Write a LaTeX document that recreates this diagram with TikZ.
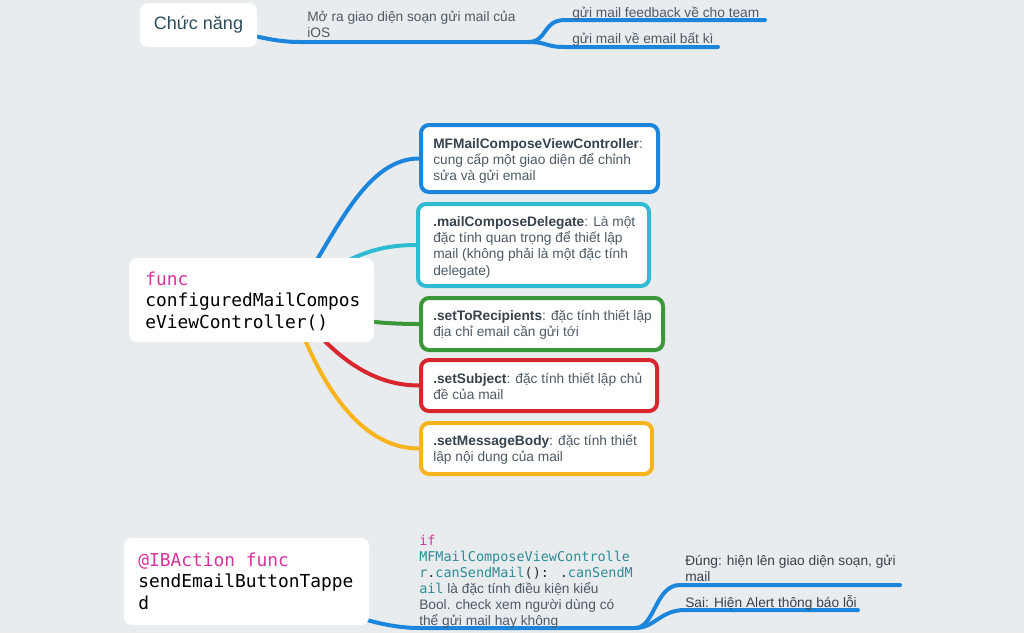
\documentclass[tikz,border=0pt]{standalone}
\usepackage{fontspec}
\setmainfont{Liberation Sans}
\newfontfamily\codefont{DejaVu Sans Mono}
\usetikzlibrary{fit}
\pgfdeclarelayer{back}
\pgfdeclarelayer{lines}
\pgfsetlayers{back,lines,main}
\definecolor{bgc}{HTML}{E9ECEF}
\definecolor{cblue}{HTML}{1B86DC}
\definecolor{ccyan}{HTML}{2FBCD3}
\definecolor{cgreen}{HTML}{3A983A}
\definecolor{cred}{HTML}{D8262E}
\definecolor{cyellow}{HTML}{F8B41C}
\definecolor{kwpink}{HTML}{D6349B}
\definecolor{codeteal}{HTML}{2E8C96}
\definecolor{codedark}{HTML}{2A2F33}
\definecolor{txtc}{HTML}{4E5A65}
\definecolor{boldc}{HTML}{37424C}
\definecolor{cnc}{HTML}{2E4D5C}
\newcommand\bodyfont{\fontsize{10.3}{12.2}\selectfont}
\newcommand\bigcode{\codefont\fontsize{13.4}{16.1}\selectfont}
\newcommand\smallcode{\codefont\fontsize{10.1}{12}\selectfont}
\newcommand\mystrut{\rule{0pt}{11pt}}
\newcommand\mystrutB{\rule{0pt}{12pt}}
\newcommand\bt[1]{\textcolor{boldc}{\textbf{#1}}}
\tikzset{
  branch/.style={line width=3pt, line cap=round},
  box/.style={draw, line width=3pt, rounded corners=6pt, fill=white, inner sep=0pt},
  whitebox/.style={fill=white, rounded corners=6pt, inner sep=0pt},
  txt/.style={anchor=north west, inner sep=0pt, align=left, font=\bodyfont, text=txtc},
  code/.style={anchor=north west, inner sep=0pt, align=left, font=\bigcode, text=black},
}
\begin{document}
\begin{tikzpicture}[x=0.75pt,y=-0.75pt]
\useasboundingbox (0,0) rectangle (1024,633);
\begin{pgfonlayer}{back}
\fill[bgc] (0,0) rectangle (1024,633);
\end{pgfonlayer}

% ---------- top ----------
\node[whitebox, minimum width=87.75pt, minimum height=33pt, font=\fontsize{13.5}{16}\selectfont, text=cnc] (cn) at (198.5,25) {Chức năng};
\coordinate (j1) at (528,42);
\coordinate (e1) at (765,20);
\coordinate (e2) at (718,47);
\node[txt] (t0) at (307,6.3) {\mystrut Mở ra giao diện soạn gửi mail của\\iOS};
\node[txt] (t1) at (572,2.3) {\mystrut gửi mail feedback về cho team};
\node[txt] (t2) at (572,28.3) {\mystrut gửi mail về email bất kì};

% ---------- middle ----------
\node[whitebox, fit={(129,258) (374,342)}] (fn) {};
\node[code] (fnt) at (145,269) {\mystrutB{\color{kwpink}func}\\configuredMailCompos\\eViewController()};
\coordinate (fc) at (290,300);

\node[box, draw=cblue, fit={(421,125) (658,192)}] (b1) {};
\node[box, draw=ccyan, fit={(418,204) (649,286)}] (b2) {};
\node[box, draw=cgreen, fit={(421,298) (663,350)}] (b3) {};
\node[box, draw=cred, fit={(421,360) (657,411)}] (b4) {};
\node[box, draw=cyellow, fit={(421,423) (652,474)}] (b5) {};

\node[txt] (b1t) at (433,133.3) {\mystrut\bt{MFMailComposeViewController}:\\cung cấp một giao diện để chỉnh\\sửa và gửi email};
\node[txt] (b2t) at (433,211.3) {\mystrut\bt{.mailComposeDelegate}: Là một\\đặc tính quan trọng để thiết lập\\mail (không phải là một đặc tính\\delegate)};
\node[txt] (b3t) at (433,305.3) {\mystrut\bt{.setToRecipients}: đặc tính thiết lập\\địa chỉ email cần gửi tới};
\node[txt] (b4t) at (433,368.3) {\mystrut\bt{.setSubject}: đặc tính thiết lập chủ\\đề của mail};
\node[txt] (b5t) at (433,430.3) {\mystrut\bt{.setMessageBody}: đặc tính thiết\\lập nội dung của mail};

% ---------- bottom ----------
\node[whitebox, fit={(124,538) (369,625)}] (ib) {};
\node[code] (ibt) at (138,550) {\mystrutB{\color{kwpink}@IBAction func}\\sendEmailButtonTappe\\d};
\coordinate (j2) at (635,628);
\coordinate (e3) at (900,585);
\coordinate (e4) at (858,610);
\node[txt, font=\fontsize{10.3}{12}\selectfont] (cd) at (419,530.3) {\mystrut{\smallcode\color{kwpink}if}\\
{\smallcode\color{codeteal}MFMailComposeViewControlle}\\
{\smallcode{\color{codeteal}r}\color{codedark}.{\color{codeteal}canSendMail}(): .{\color{codeteal}canSendM}}\\
{\smallcode\color{codeteal}ail} là đặc tính điều kiện kiểu\\
Bool. check xem người dùng có\\
thể gửi mail hay không};
\node[txt, text=boldc] (ok) at (685,550.3) {\mystrut Đúng: hiện lên giao diện soạn, gửi\\mail};
\node[txt, text=boldc] (no) at (685,592.3) {\mystrut Sai: Hiện Alert thông báo lỗi};

% ---------- connectors ----------
\begin{pgfonlayer}{lines}
\draw[branch,cblue] (cn.center) .. controls (240,30) and (265,42) .. (300,42) -- (j1);
\draw[branch,cblue] (j1) .. controls (548,42) and (542,20) .. (565,20) -- (e1);
\draw[branch,cblue] (j1) .. controls (548,42) and (545,47) .. (565,47) -- (e2);

\draw[branch,cblue] (fc) .. controls (330,250) and (360,158.5) .. (b1.west);
\draw[branch,ccyan] (fc) .. controls (340,260) and (370,245) .. (b2.west);
\draw[branch,cgreen] (fc) .. controls (330,320) and (380,324) .. (b3.west);
\draw[branch,cred] (fc) .. controls (320,340) and (360,385.5) .. (b4.west);
\draw[branch,cyellow] (fc) .. controls (310,360) and (350,448.5) .. (b5.west);

\draw[branch,cblue] (ib.center) .. controls (330,605) and (370,628) .. (420,628) -- (j2);
\draw[branch,cblue] (j2) .. controls (655,628) and (655,585) .. (680,585) -- (e3);
\draw[branch,cblue] (j2) .. controls (655,628) and (660,610) .. (685,610) -- (e4);
\end{pgfonlayer}
\end{tikzpicture}
\end{document}
